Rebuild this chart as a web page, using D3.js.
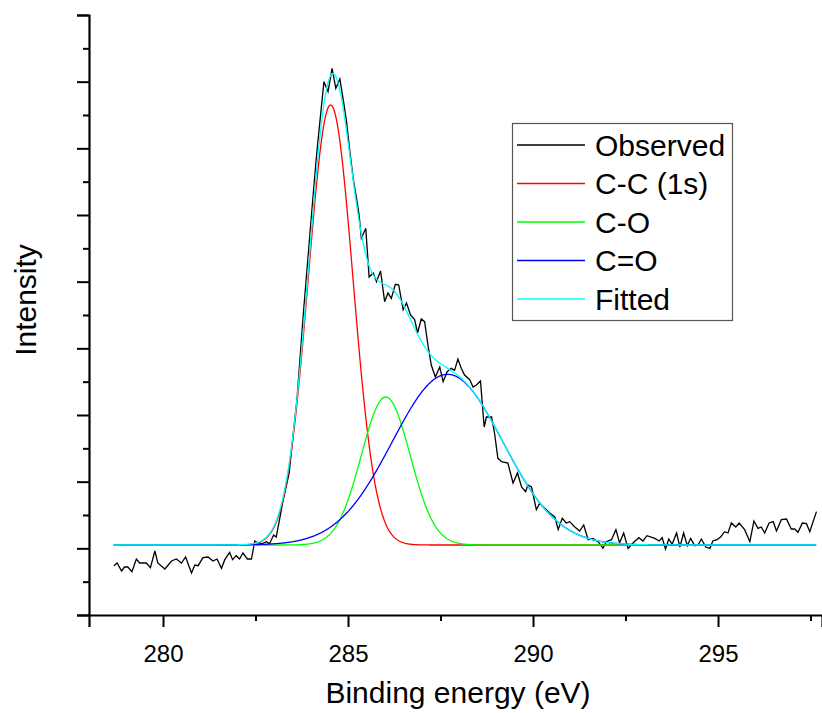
<!DOCTYPE html>
<html>
<head>
<meta charset="utf-8">
<script src="https://cdn.jsdelivr.net/npm/d3@7"></script>
<style>
  body { margin: 0; background: #fff; }
  text { font-family: Arial, "Liberation Sans", sans-serif; }
</style>
</head>
<body>
<svg id="chart" width="822" height="713"></svg>
<script>
// observed spectrum (eV, arbitrary units)
const obsEnergy = [
  278.67, 278.76, 278.88, 278.96, 279.05, 279.16, 279.28, 279.37, 279.55, 279.66,
  279.78, 279.86, 280.05, 280.23, 280.36, 280.50, 280.61, 280.77, 280.86, 280.95,
  281.08, 281.22, 281.35, 281.46, 281.58, 281.67, 281.80, 281.88, 281.98, 282.07,
  282.16, 282.28, 282.39, 282.48, 282.57, 282.69, 282.79, 282.88, 282.99, 283.06,
  283.24, 283.41, 283.51, 283.62, 283.79, 284.05, 284.15, 284.24, 284.35, 284.46,
  284.57, 284.67, 284.78, 284.88, 284.96, 285.05, 285.14, 285.23, 285.30, 285.36,
  285.48, 285.57, 285.68, 285.77, 285.88, 285.99, 286.08, 286.17, 286.28, 286.37,
  286.49, 286.58, 286.69, 286.80, 286.88, 286.98, 287.07, 287.16, 287.25, 287.36,
  287.48, 287.57, 287.68, 287.79, 287.88, 287.97, 288.06, 288.15, 288.29, 288.38,
  288.47, 288.58, 288.68, 288.74, 288.88, 288.96, 289.05, 289.15, 289.32, 289.46,
  289.58, 289.69, 289.80, 289.86, 289.96, 290.09, 290.18, 290.32, 290.45, 290.59,
  290.68, 290.79, 290.90, 290.99, 291.13, 291.26, 291.37, 291.49, 291.62, 291.76,
  291.89, 291.98, 292.12, 292.24, 292.34, 292.45, 292.57, 292.70, 292.86, 292.97,
  293.08, 293.29, 293.41, 293.49, 293.58, 293.67, 293.76, 293.88, 293.97, 294.07,
  294.17, 294.26, 294.37, 294.46, 294.55, 294.67, 294.78, 294.86, 294.97, 295.07,
  295.18, 295.27, 295.36, 295.48, 295.57, 295.72, 295.86, 295.97, 296.08, 296.17,
  296.26, 296.38, 296.49, 296.58, 296.71, 296.85, 296.98, 297.07, 297.16, 297.28,
  297.39, 297.48, 297.66
];
const obsIntensity = [
  0.74, 0.78, 0.66, 0.72, 0.72, 0.65, 0.84, 0.78, 0.78, 0.71,
  0.96, 0.78, 0.69, 0.81, 0.84, 0.78, 0.87, 0.63, 0.75, 0.74,
  0.86, 0.87, 0.81, 0.84, 0.70, 0.83, 0.94, 0.83, 0.89, 0.84,
  0.93, 0.84, 0.84, 1.11, 1.08, 1.07, 1.10, 1.07, 1.20, 1.17,
  1.70, 2.13, 2.67, 3.23, 4.50, 6.25, 6.90, 7.40, 8.00, 7.85,
  8.20, 7.90, 8.04, 7.70, 7.40, 6.95, 6.55, 6.25, 6.00, 5.65,
  5.80, 5.07, 5.13, 5.00, 5.16, 4.70, 4.83, 4.75, 4.96, 4.95,
  4.58, 4.68, 4.50, 4.43, 4.23, 4.44, 4.40, 4.05, 3.75, 3.57,
  3.72, 3.50, 3.65, 3.70, 3.67, 3.84, 3.70, 3.60, 3.53, 3.42,
  3.45, 3.51, 2.82, 2.97, 2.97, 2.73, 2.35, 2.30, 2.28, 1.98,
  2.13, 1.92, 1.85, 1.95, 1.92, 1.58, 1.68, 1.60, 1.53, 1.47,
  1.28, 1.45, 1.38, 1.40, 1.32, 1.26, 1.35, 1.13, 1.15, 1.10,
  1.00, 1.10, 1.13, 1.28, 1.08, 1.23, 1.00, 1.08, 1.16, 1.11,
  1.19, 1.15, 1.11, 1.16, 0.99, 1.14, 1.06, 1.23, 1.02, 1.23,
  1.04, 1.15, 1.04, 1.05, 1.14, 1.02, 1.00, 1.11, 1.13, 1.17,
  1.25, 1.23, 1.38, 1.32, 1.38, 1.28, 1.10, 1.41, 1.30, 1.32,
  1.23, 1.38, 1.40, 1.26, 1.43, 1.44, 1.29, 1.29, 1.24, 1.38,
  1.37, 1.25, 1.55
];

// fitted gaussian components
const fitBaseline = 1.05;
const peakNames = ["C-C (1s)", "C-O", "C=O"];
const peakCenters = [284.53, 286.02, 287.69];
const peakHeights = [6.60, 2.22, 2.56];
const peakSigmas = [0.604, 0.66, 1.49];

const legendNames = ["Observed", "C-C (1s)", "C-O", "C=O", "Fitted"];
const xMajorTicks = [280, 285, 290, 295];
const xMinorTicks = [282.5, 287.5, 292.5, 297.5];
const yMajorTicks = [0, 1, 2, 3, 4, 5, 6, 7, 8, 9];
const yMinorTicks = [0.5, 1.5, 2.5, 3.5, 4.5, 5.5, 6.5, 7.5, 8.5];

const colors = {
  "Observed": "#000000",
  "C-C (1s)": "#ff0000",
  "C-O": "#00ff00",
  "C=O": "#0000ff",
  "Fitted": "#00ffff"
};

const svg = d3.select("#chart");
const x = d3.scaleLinear().domain([278, 297.81]).range([89, 822]);
const y = d3.scaleLinear().domain([0, 9]).range([615, 15]);

// model curves
const gauss = (e, i) => peakHeights[i] * Math.exp(-((e - peakCenters[i]) ** 2) / (2 * peakSigmas[i] ** 2));
const grid = d3.range(obsEnergy[0], obsEnergy[obsEnergy.length - 1], 0.02);
const compCurves = peakNames.map((name, i) => ({
  name: name,
  pts: grid.map(e => [e, fitBaseline + gauss(e, i)])
}));
const fitCurve = grid.map(e => [e, fitBaseline + peakNames.reduce((s, n, i) => s + gauss(e, i), 0)]);

const line = d3.line().x(d => x(d[0])).y(d => y(d[1]));
const plot = svg.append("g");

plot.append("path")
  .datum(obsEnergy.map((e, i) => [e, obsIntensity[i]]))
  .attr("d", line)
  .attr("fill", "none")
  .attr("stroke", colors["Observed"])
  .attr("stroke-width", 1.3);

plot.selectAll("path.comp")
  .data(compCurves)
  .join("path")
  .attr("class", "comp")
  .attr("d", d => line(d.pts))
  .attr("fill", "none")
  .attr("stroke", d => colors[d.name])
  .attr("stroke-width", 1.3);

plot.append("path")
  .datum(fitCurve)
  .attr("d", line)
  .attr("fill", "none")
  .attr("stroke", colors["Fitted"])
  .attr("stroke-width", 1.3);

// axes
const xAxis = svg.append("g").attr("transform", "translate(0,615)");
xAxis.call(d3.axisBottom(x).tickValues(xMajorTicks).tickSize(12).tickPadding(18).tickFormat(d3.format("d")));
xAxis.append("g").call(d3.axisBottom(x).tickValues(xMinorTicks).tickSize(6).tickFormat(""))
  .select(".domain").remove();

const yAxis = svg.append("g").attr("transform", "translate(89,0)");
yAxis.call(d3.axisLeft(y).tickValues(yMajorTicks).tickSize(12).tickFormat(""));
yAxis.append("g").call(d3.axisLeft(y).tickValues(yMinorTicks).tickSize(6).tickFormat(""))
  .select(".domain").remove();

svg.selectAll(".domain").attr("stroke", "#000").attr("stroke-width", 2.2);
svg.selectAll(".tick line").attr("stroke", "#000").attr("stroke-width", 2);
xAxis.selectAll(".tick text").attr("font-size", 24).attr("font-family", "Arial, 'Liberation Sans', sans-serif").attr("fill", "#000");

svg.append("text")
  .attr("x", 458).attr("y", 703)
  .attr("text-anchor", "middle")
  .attr("font-size", 30)
  .text("Binding energy (eV)");

svg.append("text")
  .attr("transform", "translate(36,300) rotate(-90)")
  .attr("text-anchor", "middle")
  .attr("font-size", 30)
  .text("Intensity");

// legend
const legend = svg.append("g").attr("transform", "translate(512,123)");
legend.append("rect")
  .attr("x", 0.5).attr("y", 0.5).attr("width", 220).attr("height", 197)
  .attr("fill", "#fff").attr("stroke", "#555").attr("stroke-width", 1.2);
const rows = legend.selectAll("g.row")
  .data(legendNames)
  .join("g")
  .attr("class", "row")
  .attr("transform", (d, i) => `translate(0,${22 + i * 38.5})`);
rows.append("line")
  .attr("x1", 5).attr("x2", 73)
  .attr("stroke", d => colors[d]).attr("stroke-width", 1.3);
rows.append("text")
  .attr("x", 83).attr("dy", "0.36em")
  .attr("font-size", 30)
  .text(d => d);
</script>
</body>
</html>
